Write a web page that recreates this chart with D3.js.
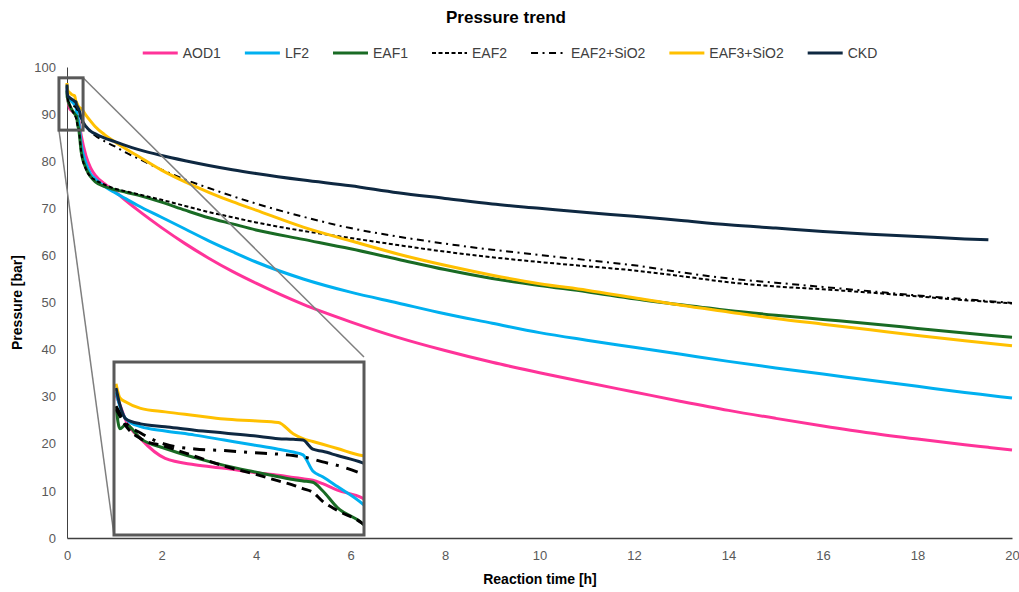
<!DOCTYPE html>
<html>
<head>
<meta charset="utf-8">
<script src="https://cdn.jsdelivr.net/npm/d3@7"></script>
<style>
    body { margin: 0; background: #fff; }
    svg { font-family: "Liberation Sans", Arial, sans-serif; }
</style>
</head>
<body>
<svg id="chart" width="1019" height="592"></svg>
<script>
//// data (time in hours, pressure in bar)
var earlyTime = [0, 0.004, 0.01, 0.025, 0.05, 0.08, 0.11, 0.14, 0.165, 0.18, 0.19, 0.2, 0.21, 0.225, 0.25];
var mainTime = [0.3, 0.4, 0.5, 0.6, 0.8, 1, 1.25, 1.5, 2, 2.5, 3, 3.5, 4, 5, 6, 7, 8, 9, 10, 11, 12, 13, 14, 15, 16, 17, 18, 19, 19.5, 20];

var aod1Early = [95.8, 95.1, 94.0, 92.7, 91.3, 90.85, 90.6, 90.3, 90.1, 89.95, 89.85, 89.75, 89.5, 89.05, 88.5];
var aod1Main = [85.5, 81.2, 78.6, 77.0, 75.2, 73.7, 71.6, 69.6, 65.9, 62.5, 59.4, 56.6, 54.1, 49.6, 45.9, 42.6, 39.8, 37.3, 35.1, 33.0, 31.0, 29.0, 27.1, 25.4, 23.8, 22.3, 21.0, 19.8, 19.25, 18.7];

var lf2Early = [96.0, 95.0, 94.1, 93.55, 93.25, 92.95, 92.6, 92.25, 91.95, 91.75, 91.55, 90.4, 90.0, 89.3, 88.1];
var lf2Main = [83.6, 79.6, 77.3, 76.2, 74.6, 73.4, 72.0, 70.6, 68.1, 65.6, 63.1, 60.8, 58.6, 55.0, 52.2, 49.9, 47.6, 45.6, 43.6, 42.0, 40.5, 39.0, 37.5, 36.1, 34.8, 33.5, 32.2, 30.9, 30.3, 29.7];

var eaf1Early = [95.0, 93.4, 93.7, 92.7, 92.0, 91.35, 90.8, 90.35, 90.0, 89.8, 89.7, 89.6, 89.0, 87.8, 86.7];
var eaf1Main = [82.0, 78.5, 76.7, 75.6, 74.6, 74.0, 73.4, 72.8, 71.3, 69.6, 68.0, 66.7, 65.4, 63.4, 61.4, 59.2, 57.0, 55.1, 53.6, 52.3, 50.8, 49.5, 48.3, 47.3, 46.4, 45.5, 44.5, 43.5, 43.05, 42.6];

var eaf2Early = [94.8, 94.3, 93.6, 92.7, 92.15, 91.45, 90.75, 90.2, 89.7, 89.4, 89.15, 88.9, 88.25, 87.6, 86.7];
var eaf2Main = [82.0, 78.3, 76.7, 76.0, 75.0, 74.2, 73.6, 73.0, 71.8, 70.5, 69.2, 68.1, 67.0, 65.2, 63.7, 62.2, 60.8, 59.6, 58.6, 57.7, 56.8, 55.6, 54.3, 53.4, 52.8, 52.1, 51.3, 50.5, 50.15, 49.8];

var eaf2SiEarly = [95.0, 94.5, 93.8, 93.1, 92.3, 91.97, 91.85, 91.7, 91.6, 91.5, 91.4, 91.25, 91.05, 90.8, 90.2];
var eaf2SiMain = [88.6, 87.2, 86.2, 85.4, 84.2, 83.2, 81.8, 80.6, 78.2, 76.1, 74.3, 72.6, 71.0, 68.2, 65.8, 64.0, 62.5, 61.2, 60.1, 59.0, 57.9, 56.4, 55.1, 54.2, 53.3, 52.4, 51.5, 50.7, 50.3, 49.9];

var eaf3SiEarly = [96.6, 95.6, 95.3, 94.85, 94.6, 94.35, 94.1, 93.97, 93.85, 93.05, 92.7, 92.5, 92.3, 92.0, 91.5];
var eaf3SiMain = [91.2, 89.8, 88.5, 87.3, 85.6, 84.2, 82.6, 81.1, 78.1, 75.6, 73.4, 71.4, 69.6, 66.0, 63.1, 60.3, 57.9, 55.8, 54.0, 52.6, 51.0, 49.4, 48.0, 46.6, 45.4, 44.2, 43.0, 41.9, 41.35, 40.8];

var ckdEarly = [96.3, 95.1, 94.1, 93.75, 93.55, 93.3, 93.1, 92.9, 92.7, 92.65, 92.6, 91.95, 91.8, 91.5, 91.0];
var ckdMain = [89.2, 87.4, 86.4, 85.8, 84.9, 84.2, 83.3, 82.5, 81.2, 80.1, 79.1, 78.2, 77.4, 76.0, 74.8, 73.3, 72.1, 70.9, 70.0, 69.1, 68.3, 67.4, 66.5, 65.8, 65.1, 64.5, 64.0, 63.5, 63.3, null];

var seriesNames = ["AOD1", "LF2", "EAF1", "EAF2", "EAF2+SiO2", "EAF3+SiO2", "CKD"];
var earlyValues = [aod1Early, lf2Early, eaf1Early, eaf2Early, eaf2SiEarly, eaf3SiEarly, ckdEarly];
var mainValues = [aod1Main, lf2Main, eaf1Main, eaf2Main, eaf2SiMain, eaf3SiMain, ckdMain];

var xTicks = [0, 2, 4, 6, 8, 10, 12, 14, 16, 18, 20];
var yTicks = [0, 10, 20, 30, 40, 50, 60, 70, 80, 90, 100];

//// styles
var colors = ["#ff3399", "#00b0f0", "#196b24", "#000000", "#000000", "#ffc000", "#0e2841"];
var dashMain = [null, null, null, "4,2.5", "7,4.5,2,4.5", null, null];
var dashInset = [null, null, null, "10,6", "12,8,3,8", null, null];
var widthMain = [3, 3, 3, 2, 2, 3, 3];

var margin = { top: 67, right: 7, bottom: 54, left: 67 },
    width = 1019 - margin.left - margin.right,
    height = 592 - margin.top - margin.bottom;

var svg = d3.select("#chart");

var x = d3.scaleLinear().domain([0, 20]).range([margin.left, margin.left + width]);
var y = d3.scaleLinear().domain([0, 100]).range([margin.top + height, margin.top]);

var series = seriesNames.map(function (name, i) {
    var pts = earlyTime.map(function (t, j) { return [t, earlyValues[i][j]]; });
    var early = pts.slice();
    mainTime.forEach(function (t, j) {
        if (mainValues[i][j] != null) pts.push([t, mainValues[i][j]]);
    });
    return { name: name, i: i, points: pts, early: early.concat([[mainTime[0], mainValues[i][0]]]) };
});

//// title
svg.append("text")
    .attr("x", 506).attr("y", 23)
    .attr("text-anchor", "middle")
    .style("font-size", "17px").style("font-weight", "bold")
    .text("Pressure trend");

//// axes
var xAxis = d3.axisBottom(x).tickValues(xTicks).tickSize(0).tickPadding(13);
var yAxis = d3.axisLeft(y).tickValues(yTicks).tickSize(0).tickPadding(11);

var gx = svg.append("g")
    .attr("transform", "translate(0," + (margin.top + height) + ")")
    .call(xAxis);
gx.select(".domain").attr("stroke", "#404040").attr("stroke-width", 1.3);
gx.selectAll(".tick text").style("font-size", "13px").attr("fill", "#595959");

var gy = svg.append("g")
    .attr("transform", "translate(" + margin.left + ",0)")
    .call(yAxis);
gy.select(".domain").attr("stroke", "#404040").attr("stroke-width", 1);
gy.selectAll(".tick text").style("font-size", "13px").attr("fill", "#595959");

svg.append("text")
    .attr("x", 540).attr("y", 584)
    .attr("text-anchor", "middle")
    .style("font-size", "14px").style("font-weight", "bold")
    .text("Reaction time [h]");

svg.append("text")
    .attr("transform", "translate(22," + (margin.top + height / 2) + ") rotate(-90)")
    .attr("text-anchor", "middle")
    .style("font-size", "14px").style("font-weight", "bold")
    .text("Pressure [bar]");

//// main lines
var line = d3.line()
    .x(function (d) { return x(d[0]); })
    .y(function (d) { return y(d[1]); })
    .curve(d3.curveMonotoneX);

svg.append("g").selectAll("path")
    .data(series)
    .enter()
    .append("path")
    .attr("d", function (d) { return line(d.points); })
    .attr("fill", "none")
    .attr("stroke", function (d) { return colors[d.i]; })
    .attr("stroke-width", function (d) { return widthMain[d.i]; })
    .attr("stroke-dasharray", function (d) { return dashMain[d.i]; })
    .attr("stroke-linejoin", "round");

//// legend
var legend = svg.append("g").attr("transform", "translate(0,53)");
var lx = 0;
var items = legend.selectAll("g")
    .data(series)
    .enter()
    .append("g");
items.append("line")
    .attr("x1", 0).attr("x2", 35)
    .attr("stroke", function (d) { return colors[d.i]; })
    .attr("stroke-width", function (d) { return widthMain[d.i]; })
    .attr("stroke-dasharray", function (d) { return dashMain[d.i]; });
items.append("text")
    .attr("x", 40).attr("dy", "0.35em")
    .style("font-size", "14px").attr("fill", "#404040")
    .text(function (d) { return d.name; });
items.each(function () {
    var g = d3.select(this);
    g.attr("transform", "translate(" + lx + ",0)");
    lx += 40 + g.select("text").node().getComputedTextLength() + 24;
});
legend.attr("transform", "translate(" + (510 - (lx - 24) / 2) + ",53)");

//// zoom window on the main chart and inset
var zoomT = [-0.17, 0.34], zoomV = [86.6, 97.7];
var inset = { x: 114, y: 362, w: 250, h: 173 };

var zx0 = x(zoomT[0]), zx1 = x(zoomT[1]), zy0 = y(zoomV[1]), zy1 = y(zoomV[0]);

svg.append("line")
    .attr("x1", zx1).attr("y1", zy0).attr("x2", inset.x + inset.w).attr("y2", inset.y - 5)
    .attr("stroke", "#7f7f7f").attr("stroke-width", 1.5);
svg.append("line")
    .attr("x1", zx0).attr("y1", zy1).attr("x2", inset.x).attr("y2", inset.y + inset.h)
    .attr("stroke", "#7f7f7f").attr("stroke-width", 1.5);

svg.append("rect")
    .attr("x", zx0).attr("y", zy0)
    .attr("width", zx1 - zx0).attr("height", zy1 - zy0)
    .attr("fill", "none").attr("stroke", "#595959").attr("stroke-width", 3);

var xi = d3.scaleLinear().domain([0, 0.25]).range([inset.x + 2, inset.x + inset.w - 2]);
var yi = d3.scaleLinear().domain([86, 98]).range([inset.y + inset.h - 2, inset.y + 2]);

svg.append("defs").append("clipPath").attr("id", "insetClip")
    .append("rect")
    .attr("x", inset.x).attr("y", inset.y)
    .attr("width", inset.w).attr("height", inset.h);

svg.append("rect")
    .attr("x", inset.x).attr("y", inset.y)
    .attr("width", inset.w).attr("height", inset.h)
    .attr("fill", "#fff");

var lineInset = d3.line()
    .x(function (d) { return xi(d[0]); })
    .y(function (d) { return yi(d[1]); })
    .curve(d3.curveMonotoneX);

svg.append("g").attr("clip-path", "url(#insetClip)")
    .selectAll("path")
    .data(series)
    .enter()
    .append("path")
    .attr("d", function (d) { return lineInset(d.early); })
    .attr("fill", "none")
    .attr("stroke", function (d) { return colors[d.i]; })
    .attr("stroke-width", 3)
    .attr("stroke-dasharray", function (d) { return dashInset[d.i]; })
    .attr("stroke-linejoin", "round");

svg.append("rect")
    .attr("x", inset.x).attr("y", inset.y)
    .attr("width", inset.w).attr("height", inset.h)
    .attr("fill", "none").attr("stroke", "#595959").attr("stroke-width", 3);
</script>
</body>
</html>
